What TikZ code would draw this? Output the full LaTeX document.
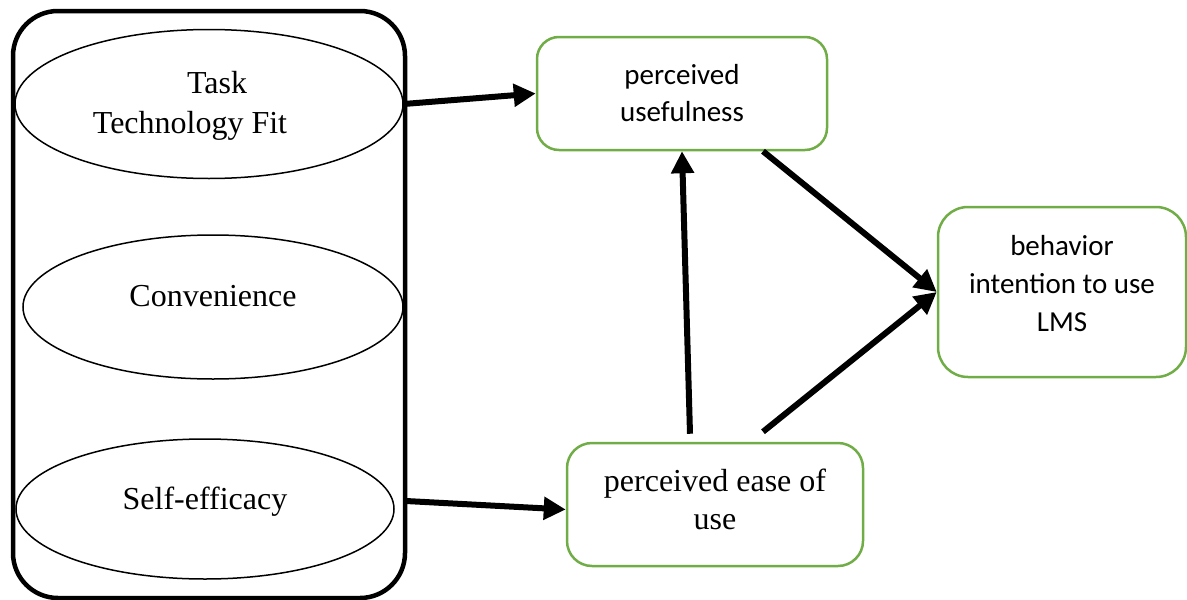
\documentclass[tikz,border=0pt]{standalone}
\usepackage{fontspec}
\setmainfont{Liberation Serif}
\newfontfamily\boxfont{Carlito}
\usetikzlibrary{arrows.meta,shapes.geometric}
\definecolor{framegreen}{HTML}{70AD47}
\begin{document}
\begin{tikzpicture}[x=1pt,y=-1pt,
  groupframe/.style={draw, line width=4.5pt, rounded corners=45pt, inner sep=0pt},
  factor/.style={draw, ellipse, line width=1.5pt, inner sep=0pt},
  factortext/.style={anchor=base, inner sep=0pt, font=\fontsize{32}{38}\selectfont},
  construct/.style={draw=framegreen, line width=2.5pt, rounded corners=#1, align=center, inner sep=0pt},
  construct/.default=22pt,
  conn/.style={line width=6pt, -{Triangle[length=22pt,width=22pt]}}]
\useasboundingbox (0,0) rectangle (1187,600);

% grouping frame around the external factors
\node[groupframe, minimum width=392pt, minimum height=587pt] (group) at (209,304.5) {};

% external factors
\node[factor, minimum width=388pt, minimum height=149pt] (ttf) at (209,104) {};
\node[factor, minimum width=380pt, minimum height=144pt] (conv) at (213,307) {};
\node[factor, minimum width=378pt, minimum height=140pt] (se) at (205,509) {};

\node[factortext] (ttf-a) at (217,93) {Task};
\node[factortext] (ttf-b) at (190,133) {Technology Fit};
\node[factortext] (conv-t) at (213,306) {Convenience};
\node[factortext] (se-t) at (205,509) {Self-efficacy};

% TAM constructs
\node[construct, minimum width=290pt, minimum height=113pt,
      font=\boxfont\fontsize{29}{37}\selectfont] (pu) at (682,93.5)
  {perceived\\usefulness};
\node[construct=25pt, minimum width=296pt, minimum height=123pt,
      font=\fontsize{32}{38}\selectfont] (peou) at (715,504.5)
  {perceived ease of\\use\\[-28pt]};
\node[construct=30pt, minimum width=248pt, minimum height=170pt,
      font=\boxfont\fontsize{29}{38}\selectfont] (bi) at (1062,292)
  {behavior\\intention to use\\LMS\\[-20pt]};

% relations
\coordinate (se-out) at (406,501);
\draw[conn] (ttf.east) -- (pu.west);
\draw[conn] (se-out) -- ([yshift=-5pt]peou.west);
\draw[conn] ([xshift=-25pt,yshift=8pt]peou.north) -- (pu.south);
\draw[conn] ([xshift=81pt]pu.south) -- (bi.west);
\draw[conn] ([xshift=48pt,yshift=10pt]peou.north) -- (bi.west);
\end{tikzpicture}
\end{document}
